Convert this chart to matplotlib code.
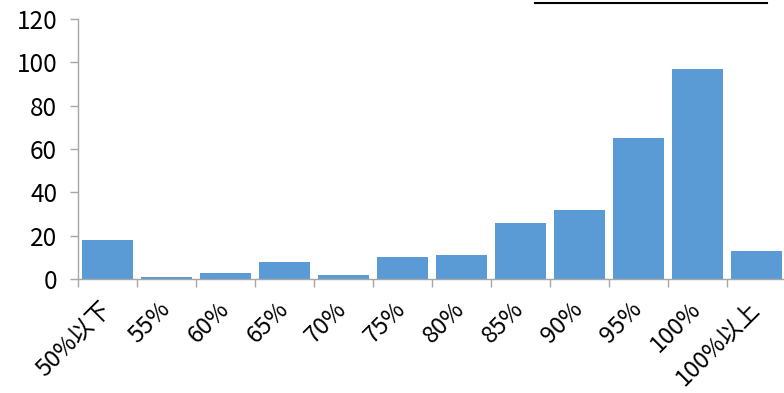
import matplotlib.pyplot as plt
from matplotlib.lines import Line2D

plt.rcParams['font.family'] = ['Noto Sans CJK JP', 'DejaVu Sans']

categories = ['50%以下', '55%', '60%', '65%', '70%', '75%', '80%', '85%', '90%', '95%', '100%', '100%以上']
counts = [18, 1, 3, 8, 2, 10, 11, 26, 32, 65, 97, 13]
y_ticks = [0, 20, 40, 60, 80, 100, 120]

bar_color = '#5B9BD5'
axis_color = '#A6A6A6'

fig = plt.figure(figsize=(7.84, 3.93), dpi=100)
ax = fig.add_axes([78 / 784, 1 - 279 / 393, 708 / 784, 260 / 393])

x = list(range(len(categories)))
ax.bar(x, counts, width=0.88, color=bar_color, zorder=2)

ax.set_xlim(-0.5, len(categories) - 0.5)
ax.set_ylim(0, 120)
ax.set_yticks(y_ticks)
ax.tick_params(axis='y', labelsize=17.5, length=6, color=axis_color, width=1, pad=9)

# labels at category centres, tick marks between categories
ax.set_xticks(x)
ax.set_xticklabels(categories, rotation=45, ha='right', va='center',
                   rotation_mode='anchor', fontsize=17)
ax.set_xticks([i - 0.5 for i in range(len(categories) + 1)], minor=True)
ax.tick_params(axis='x', which='major', length=0, pad=19)
ax.tick_params(axis='x', which='minor', length=6, color=axis_color, width=1)

for side in ['top', 'right']:
    ax.spines[side].set_visible(False)
for side in ['left', 'bottom']:
    ax.spines[side].set_color(axis_color)
    ax.spines[side].set_linewidth(1)

# leftover border line at the top right
fig.add_artist(Line2D([535 / 784, 767 / 784], [1 - 3 / 393, 1 - 3 / 393],
                      transform=fig.transFigure, color='black', linewidth=1.5))

fig.savefig('out.png', dpi=100)
